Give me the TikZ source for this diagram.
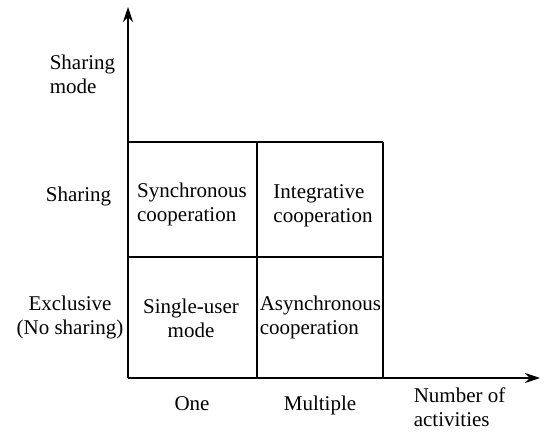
\documentclass[tikz,border=0pt]{standalone}
\usepackage{tikz}
\usepackage{fontspec}
\setmainfont{Liberation Serif}
\newfontfamily\cellfont{Liberation Serif}
\usetikzlibrary{arrows.meta}

\begin{document}
\begin{tikzpicture}[x=1pt,y=1pt,line width=1.6pt,line join=miter,
  font=\cellfont,
  lbl/.style={inner sep=0pt,align=left},
  axis/.style={-{Stealth[length=15pt,width=10pt]}}]
\useasboundingbox (0,0) rectangle (546,432);
\fontsize{21}{24}\selectfont

% axes
\coordinate (o) at (128,54);
\coordinate (ytip) at (128,425);
\coordinate (xtip) at (540,54);
\draw[axis] (o) -- (ytip);
\draw[axis] (o) -- (xtip);

% the four cells
\foreach \x in {257,383}
    \draw (\x,54) -- (\x,290);
\foreach \y in {175,290}
    \draw (128,\y) -- (383,\y);

% axis labels
\node[lbl,anchor=west] (shmode) at (49,358) {Sharing\\mode};
\node[lbl,anchor=east] (sharing) at (112,236) {Sharing};
\node[lbl,align=center] (exclusive) at (70,115) {Exclusive\\(No sharing)};
\node[lbl,anchor=base] (one) at (192,22) {One};
\node[lbl,anchor=base] (multiple) at (320,22) {Multiple};
\node[lbl,anchor=west] (nact) at (413,25) {Number of\\activities};

% cell texts
\node[lbl] (sync) at (192,228) {Synchronous\\cooperation};
\node[lbl] (integ) at (323,226) {Integrative\\cooperation};
\node[lbl,align=center] (single) at (191,114) {Single-user\\mode};
\node[lbl,anchor=west] (async) at (259,115) {Asynchronous\\cooperation};

\end{tikzpicture}
\end{document}
